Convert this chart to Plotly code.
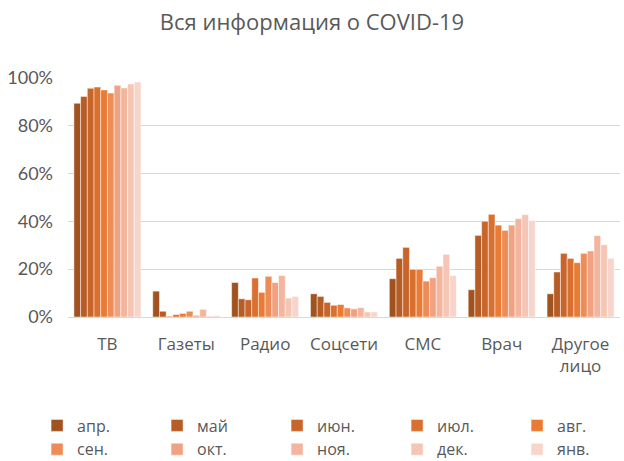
import plotly.graph_objects as go

categories = ["ТВ", "Газеты", "Радио", "Соцсети", "СМС", "Врач", "Другое<br>лицо"]
months = ["апр.", "май", "июн.", "июл.", "авг.", "сен.", "окт.", "ноя.", "дек.", "янв."]

# values per month (%), in category order
apr = [89.3, 10.8, 14.4, 9.7, 16.0, 11.4, 9.7]
may = [92.2, 2.4, 7.6, 8.6, 24.5, 34.1, 18.8]
jun = [95.6, 0.3, 7.2, 6.1, 29.1, 40.0, 26.6]
jul = [96.1, 1.0, 16.3, 4.9, 19.9, 42.9, 24.5]
aug = [94.9, 1.5, 10.3, 5.2, 19.9, 38.4, 22.7]
sep = [93.6, 2.4, 17.0, 3.8, 15.0, 36.2, 26.6]
oct_ = [96.8, 0.7, 14.4, 3.4, 16.4, 38.4, 27.6]
nov = [95.7, 3.2, 17.3, 3.9, 21.2, 41.1, 34.0]
dec = [97.4, 0.4, 7.9, 2.1, 26.2, 42.8, 30.2]
jan = [98.2, 0.6, 8.6, 2.1, 17.3, 40.3, 24.5]

series = [apr, may, jun, jul, aug, sep, oct_, nov, dec, jan]
colors = ["#A0521F", "#B75C25", "#C8652B", "#DA7030", "#E97B34",
          "#EE8C57", "#F1A282", "#F4B59E", "#F6C6B5", "#F7D5CA"]

fig = go.Figure()
for name, vals, col in zip(months, series, colors):
    fig.add_trace(go.Bar(
        x=categories, y=[v / 100 for v in vals], name=name,
        marker=dict(color=col, line=dict(color="rgba(255,255,255,0.6)", width=0.8)),
    ))

fig.update_layout(
    width=624, height=461,
    margin=dict(l=68, r=4, t=77, b=144, autoexpand=False),
    paper_bgcolor="white", plot_bgcolor="white",
    barmode="group", bargap=0.15, bargroupgap=0,
    title=dict(text="Вся информация о COVID-19", x=0.5, xanchor="center",
               y=0.952, yanchor="middle", yref="container",
               font=dict(family="Open Sans", size=22, color="#595959")),
    font=dict(family="Open Sans", size=16, color="#595959"),
    xaxis=dict(showgrid=False, showline=False, ticks="", ticklabelstandoff=15,
               tickfont=dict(family="Open Sans", size=17, color="#595959")),
    yaxis=dict(tickformat=".0%", dtick=0.2,
               showgrid=True, gridcolor="#D9D9D9", gridwidth=1,
               zeroline=True, zerolinecolor="#D9D9D9", zerolinewidth=1,
               showline=False, ticks="", ticklabelstandoff=14,
               tickfont=dict(family="Lato", size=18, color="#595959")),
    legend=dict(orientation="h", xref="paper", yref="paper",
                x=-0.056, xanchor="left", y=-0.502, yanchor="middle",
                entrywidth=75, entrywidthmode="pixels",
                font=dict(family="Open Sans", size=16, color="#595959"),
                traceorder="normal", itemclick=False, tracegroupgap=0),
)
fig.update_yaxes(range=[0, 1.003])

fig.write_html("out.html", config={"displayModeBar": False},
               post_script="document.body.style.margin='0';document.body.style.overflow='hidden';")
